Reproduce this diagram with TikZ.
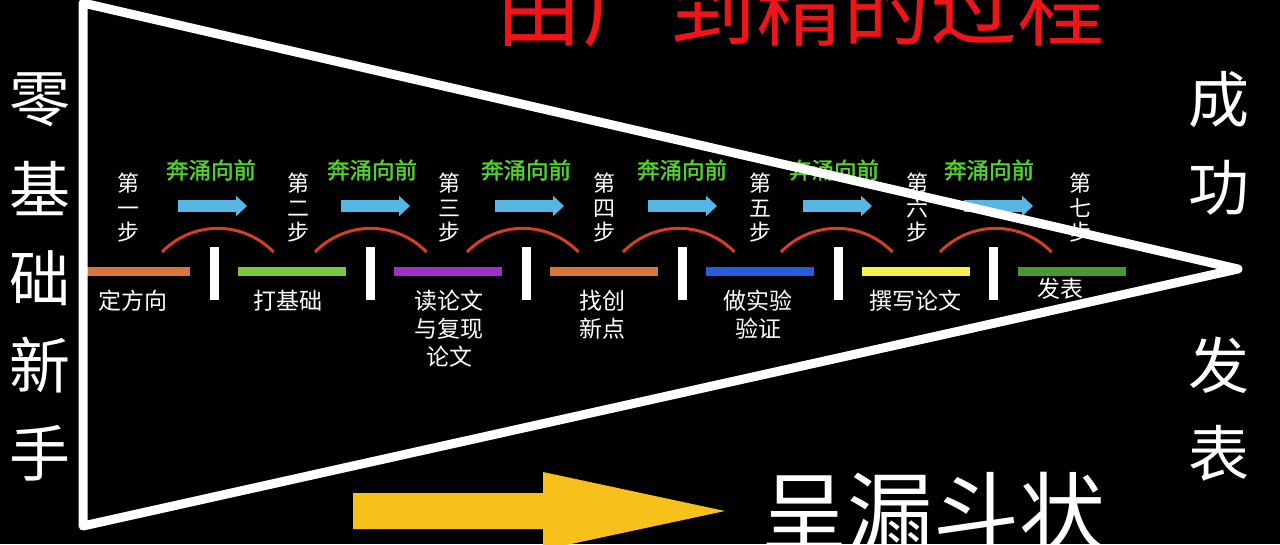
\documentclass[tikz,border=0pt]{standalone}
\usepackage{fontspec}
\setmainfont{Noto Sans CJK SC}
\newfontfamily\cheerfont[FakeBold=1.6]{Noto Sans CJK SC}
\usetikzlibrary{arrows.meta}
\definecolor{titlered}{RGB}{238,20,24}
\definecolor{cheergreen}{RGB}{80,212,42}
\definecolor{pushblue}{RGB}{86,182,228}
\definecolor{humpred}{RGB}{212,62,40}
\definecolor{funnelyellow}{RGB}{248,192,26}
\definecolor{barorange}{RGB}{218,118,58}
\definecolor{bargreen}{RGB}{122,200,64}
\definecolor{barpurple}{RGB}{158,48,200}
\definecolor{barblue}{RGB}{40,92,222}
\definecolor{baryellow}{RGB}{246,240,72}
\definecolor{bardark}{RGB}{72,152,52}
\begin{document}
\begin{tikzpicture}[x=1pt, y=-1pt,
  bar/.style={line width=9pt},
  tickmark/.style={draw=white, line width=9pt},
  hump/.style={draw=humpred, line width=3pt},
  push/.style={draw=pushblue, line width=12pt, -{Triangle[length=11pt, width=20pt]}},
  cheer/.style={text=cheergreen, font=\cheerfont\fontsize{22.5}{26}\selectfont, inner sep=0pt},
  steptext/.style={text=white, font=\fontsize{22}{24.5}\selectfont, align=center, inner sep=0pt, anchor=north},
  tasktext/.style={text=white, font=\fontsize{23}{28}\selectfont, align=center, inner sep=0pt, anchor=north},
  sidetext/.style={text=white, font=\fontsize{61}{61}\selectfont, inner sep=0pt}
]
\useasboundingbox (0,0) rectangle (1280,544);
\fill[black] (0,0) rectangle (1280,544);

% title and bottom caption
\node[text=titlered, font=\fontsize{87}{87}\selectfont, inner sep=0pt, anchor=south] (title) at (800,48) {由广到精的过程};
\node[text=white, font=\fontsize{86}{86}\selectfont, inner sep=0pt, anchor=north] (shape) at (933,472) {呈漏斗状};
\fill[funnelyellow] (353,493) -- (543,493) -- (543,472) -- (725,511) -- (543,550) -- (543,529) -- (353,529) -- cycle;

% side columns
\foreach \y/\t [count=\i] in {100/零, 188/基, 278/础, 365/新, 453/手}
  \node[sidetext] (start\i) at (40,\y) {\t};
\foreach \y/\t [count=\i] in {100/成, 188/功, 365/发, 453/表}
  \node[sidetext] (goal\i) at (1219,\y) {\t};

% stages
\draw[bar, draw=barorange] (82,271.5) -- (190,271.5);
\foreach \c [count=\i] in {bargreen, barpurple, barorange, barblue, baryellow, bardark}
  \draw[bar, draw=\c] (82+156*\i,271.5) -- (190+156*\i,271.5);
\foreach \x in {214, 370, 526, 682, 838, 993}
  \draw[tickmark] (\x,247) -- (\x,300);
\foreach \x in {218, 371, 523, 679, 837, 996}
  \draw[hump] (\x-56,252) arc[start angle=-136, end angle=-44, radius=77.5];
\foreach \x in {178, 341, 495, 648, 803, 964}
  \draw[push] (\x,206) -- (\x+69,206);
\foreach \x [count=\i] in {211, 372, 526, 682, 834, 989}
  \node[cheer] (cheer\i) at (\x,170) {奔涌向前};

\foreach \x/\t [count=\i] in {128/一, 298/二, 449/三, 604/四, 760/五, 917/六, 1080/七}
  \node[steptext] (step\i) at (\x,173) {第\\\t\\步};
\foreach \x/\y/\t [count=\i] in {133/290/定方向, 288/290/打基础, 449/290/{读论文\\与复现\\论文},
    602/290/{找创\\新点}, 758/290/{做实验\\验证}, 915/290/撰写论文, 1060/278/发表}
  \node[tasktext] (task\i) at (\x,\y) {\t};

% funnel outline
\coordinate (wide top) at (83,3);
\coordinate (wide bottom) at (83,526);
\coordinate (tip) at (1238,269);
\draw[white, line width=9pt, line join=round] (wide top) -- (tip) -- (wide bottom) -- cycle;
\end{tikzpicture}
\end{document}
